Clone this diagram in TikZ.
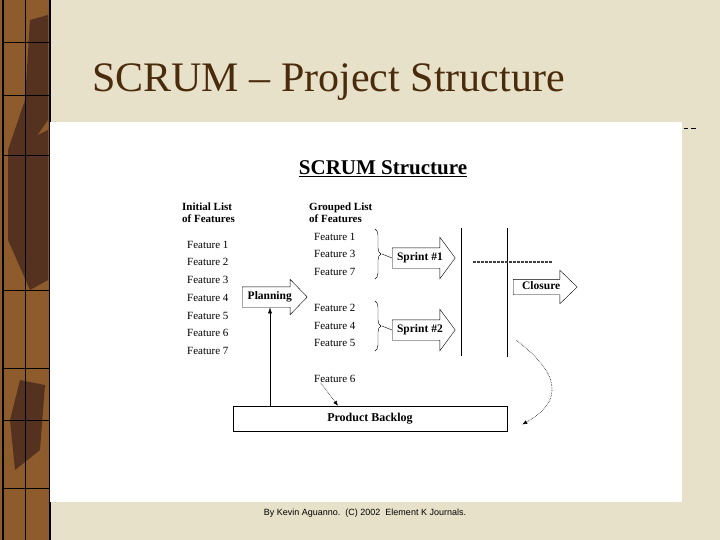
\documentclass[tikz,border=0pt]{standalone}
\usepackage{fontspec}
\setmainfont{Liberation Serif}
\newfontfamily\footfont{Liberation Sans}
\usepackage{xcolor}
\usetikzlibrary{arrows.meta,shapes.arrows,decorations.pathreplacing}
\definecolor{slidebg}{HTML}{E8E1C9}
\definecolor{titlebrown}{HTML}{4A2C0C}
\definecolor{stripbrown}{HTML}{8E5C2C}
\definecolor{stripdark}{HTML}{553220}

\begin{document}
\begin{tikzpicture}[x=1pt,y=-1pt,
    feat/.style={anchor=west,inner sep=0pt,font=\fontsize{11}{12}\selectfont},
    listhead/.style={anchor=west,align=left,inner sep=0pt,font=\bfseries\fontsize{11}{12}\selectfont},
    blockarrow/.style={draw,single arrow,single arrow head indent=0pt,anchor=tail,
        font=\bfseries\fontsize{11.5}{12}\selectfont,text height=7pt,text depth=2pt,inner xsep=2pt},
    dotarrow/.style={densely dotted,line width=0.6pt,-{Latex[length=5pt,width=4pt]}}]
    \useasboundingbox (0,0) rectangle (720,540);
    % slide background and side strip
    \fill[slidebg] (0,0) rectangle (720,540);
    \fill[stripbrown] (0,0) rectangle (50,540);
    \fill[stripdark] (30,20) -- (48,15) -- (48,120) -- (20,160) -- (8,150) -- (25,100) -- cycle;
    \fill[stripdark] (8,150) -- (48,130) -- (48,280) -- (30,290) -- (8,240) -- cycle;
    \fill[stripdark] (20,380) -- (45,385) -- (40,450) -- (15,470) -- (10,420) -- cycle;
    \draw[line width=1.5pt] (3,0) -- (3,540);
    \draw[line width=1.5pt] (50,0) -- (50,540);
    \draw (25,0) -- (25,540);
    \foreach \y in {42,95,155,290,368,420,488}
        \draw (3,\y) -- (50,\y);
    \node[anchor=base west,inner sep=0pt,text=titlebrown,font=\fontsize{42}{46}\selectfont] (title) at (92,92) {SCRUM -- Project Structure};
    \fill[white] (50,122) rectangle (682,502);
    \draw[line width=0.8pt] (684,128) -- (688,128) (691,128) -- (696,128);
    % chart
    \node[inner sep=0pt,font=\bfseries\fontsize{21}{23}\selectfont] (chart) at (383,169) {\underline{SCRUM Structure}};
    \node[listhead] (inithead) at (182,213) {Initial List\\of Features};
    \node[listhead] (grouphead) at (309,213) {Grouped List\\of Features};
    \foreach \n/\y in {1/245,2/262,3/280,4/298,5/316,6/333,7/351}
        \node[feat] (init\n) at (187,\y) {Feature \n};
    \foreach \n/\y in {1/237,3/254,7/272,2/308,4/326,5/343}
        \node[feat] (grp\n) at (314,\y) {Feature \n};
    \node[feat] (grp6) at (314,379) {Feature 6};
    \node[blockarrow,minimum height=65pt,inner ysep=5.5pt,single arrow head extend=7.5pt,single arrow tip angle=92] (planning) at (242,297) {Planning};
    \node[blockarrow,minimum height=63pt,inner ysep=5.5pt,single arrow head extend=10.5pt,single arrow tip angle=107] (sprint1) at (392,258) {Sprint \#1};
    \node[blockarrow,minimum height=63pt,inner ysep=5.5pt,single arrow head extend=10.5pt,single arrow tip angle=107] (sprint2) at (392,330) {Sprint \#2};
    \node[blockarrow,minimum height=64pt,inner ysep=3pt,single arrow head extend=9pt,single arrow tip angle=88] (closure) at (513,287) {Closure};
    \node[draw,minimum width=274pt,minimum height=25pt,inner sep=0pt,font=\bfseries\fontsize{12}{13}\selectfont] (backlog) at (370,418.5) {Product Backlog};
    % braces
    \coordinate (b1top) at (375,229);
    \coordinate (b1bot) at (375,279);
    \coordinate (b1tip) at (382,254);
    \coordinate (b2top) at (375,301);
    \coordinate (b2bot) at (375,351);
    \coordinate (b2tip) at (382,326);
    \draw[decorate,decoration={brace,amplitude=6pt}] (b1top) -- (b1bot);
    \draw[decorate,decoration={brace,amplitude=6pt}] (b2top) -- (b2bot);
    \draw (b1tip) -- (sprint1.tail);
    \draw (b2tip) -- (sprint2.tail);
    % sprint boundaries
    \draw (461,228) -- (461,356);
    \draw (507,228) -- (507,357);
    \draw[line width=2pt,dash pattern=on 3pt off 1pt,black!75] (473,262) -- (553,262);
    % flows
    \draw[-{Latex[length=6pt,width=4pt]}] ([xshift=-100pt]backlog.north) -- ([xshift=-100pt]backlog.north |- planning.south);
    \draw[dotarrow] ([xshift=-14pt]grp6.south) -- ([xshift=-32pt]backlog.north);
    \coordinate (loopstart) at (516,340);
    \draw[dotarrow] (loopstart) .. controls (545,362) and (575,395) .. ([xshift=15pt,yshift=-6pt]backlog.east);
    \node[inner sep=0pt,font=\footfont\fontsize{9}{10}\selectfont] (credit) at (365,513) {By Kevin Aguanno.\ \ (C) 2002\ \ Element K Journals.};
\end{tikzpicture}
\end{document}
